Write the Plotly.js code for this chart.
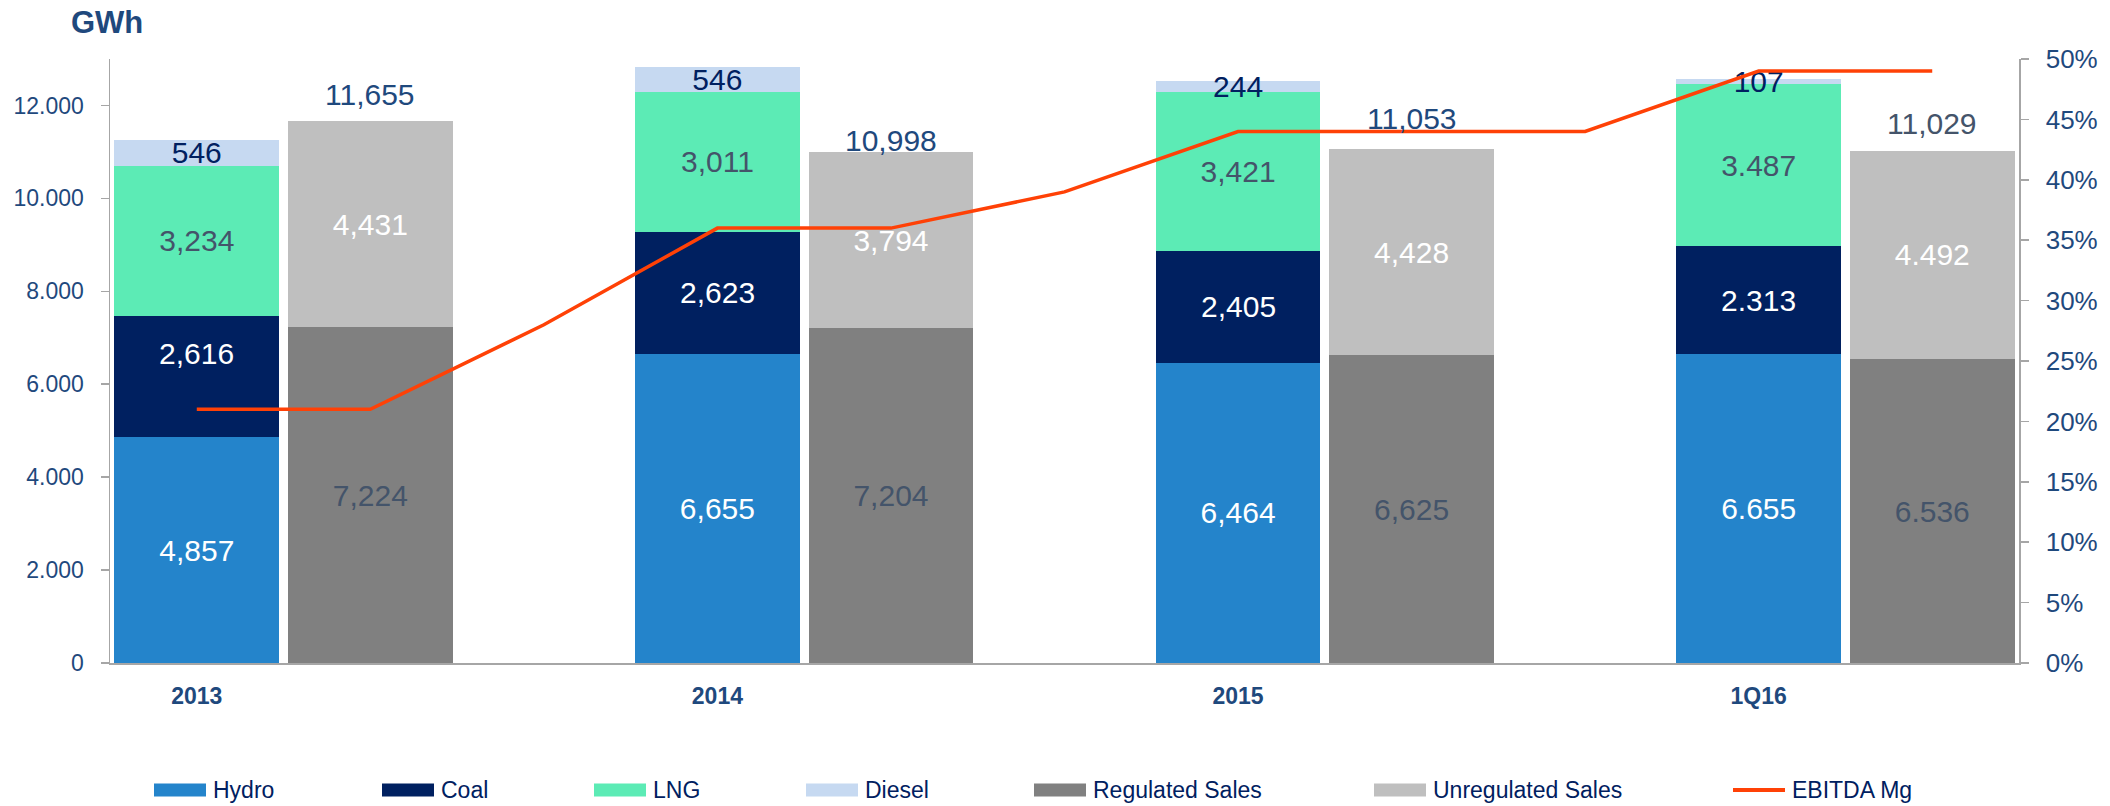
<!DOCTYPE html>
<html><head><meta charset="utf-8">
<script src="https://cdn.plot.ly/plotly-3.0.1.min.js"></script>
<style>html,body{margin:0;padding:0;background:#fff}#chart{width:2110px;height:806px}</style>
</head><body><div id="chart"></div>
<script>
// ---- data ----
const categories = ['2013', '2014', '2015', '1Q16'];
const hydro = [4857, 6655, 6464, 6655];
const coal = [2616, 2623, 2405, 2313];
const lng = [3234, 3011, 3421, 3487];
const diesel = [546, 546, 244, 107];
const regulated = [7224, 7204, 6625, 6536];
const unregulated = [4431, 3794, 4428, 4492];
const salesTotal = [11655, 10998, 11053, 11029];
const hydroLabels = ['4,857', '6,655', '6,464', '6.655'];
const coalLabels = ['2,616', '2,623', '2,405', '2.313'];
const lngLabels = ['3,234', '3,011', '3,421', '3.487'];
const dieselLabels = ['546', '546', '244', '107'];
const regulatedLabels = ['7,224', '7,204', '6,625', '6.536'];
const unregulatedLabels = ['4,431', '3,794', '4,428', '4.492'];
const totalLabels = ['11,655', '10,998', '11,053', '11,029'];
// EBITDA margin (%) at each of the 11 slots (generation bar, sales bar, gap, ...)
const ebitdaMargin = [21, 21, 28, 36, 36, 39, 44, 44, 44, 49, 49];

// ---- layout helpers ----
const W = 2110, H = 806, L = 110, R = 91, T = 59, B = 143;
const PW = W - L - R, PH = H - T - B;
const px = v => (v - L) / PW;
const py = v => (H - B - v) / PH;
const FONT = 'Arial, "Liberation Sans", sans-serif';

const genX = categories.map((c, i) => 3 * i);
const salesX = categories.map((c, i) => 3 * i + 1);
const lineX = ebitdaMargin.map((v, i) => i);

const colors = {
  Hydro: '#2484CB', Coal: '#002060', LNG: '#5CEBB5', Diesel: '#C6D9F1',
  'Regulated Sales': '#808080', 'Unregulated Sales': '#BFBFBF', 'EBITDA Mg': '#FF4106'
};
const totalColors = ['#1F497D', '#1F497D', '#1F497D', '#44546A'];
const totalShift = [27, 12, 31, 27];   // label nudges (px) above the sales bars
const coalShift = [23, 0, 0, 0];       // label nudges (px) within the coal segments

function barTrace(name, x, y, text, textColor) {
  return {
    type: 'bar', name: name, x: x, y: y, text: text,
    textposition: text ? 'inside' : 'none', insidetextanchor: 'middle', textangle: 0,
    constraintext: 'none', cliponaxis: false,
    textfont: {family: FONT, size: 30, color: textColor},
    marker: {color: colors[name]},
    hoverinfo: 'skip', showlegend: false
  };
}

const traces = [
  barTrace('Hydro', genX, hydro, hydroLabels, '#FFFFFF'),
  barTrace('Coal', genX, coal, null, '#FFFFFF'),
  barTrace('LNG', genX, lng, lngLabels, '#44546A'),
  barTrace('Diesel', genX, diesel, dieselLabels, '#002060'),
  barTrace('Regulated Sales', salesX, regulated, regulatedLabels, '#44546A'),
  barTrace('Unregulated Sales', salesX, unregulated, unregulatedLabels, '#FFFFFF'),
  {
    type: 'scatter', mode: 'lines', name: 'EBITDA Mg', x: lineX, y: ebitdaMargin,
    yaxis: 'y2', line: {color: colors['EBITDA Mg'], width: 3.5},
    hoverinfo: 'skip', showlegend: false
  }
];

const shapes = [], annotations = [];

// coal segment labels (centred on segment, with nudge)
genX.forEach((x, i) => {
  annotations.push({xref: 'x', yref: 'y', x: x, y: hydro[i] + coal[i] / 2, text: coalLabels[i],
    showarrow: false, xanchor: 'center', yanchor: 'middle', yshift: coalShift[i],
    font: {family: FONT, size: 30, color: '#FFFFFF'}});
});

// total labels above the sales bars
salesX.forEach((x, i) => {
  annotations.push({xref: 'x', yref: 'y', x: x, y: salesTotal[i], text: totalLabels[i],
    showarrow: false, xanchor: 'center', yanchor: 'middle', yshift: totalShift[i],
    font: {family: FONT, size: 30, color: totalColors[i]}});
});

// manual legend
const legendItems = [
  {name: 'Hydro', left: 154, kind: 'box'},
  {name: 'Coal', left: 382, kind: 'box'},
  {name: 'LNG', left: 594, kind: 'box'},
  {name: 'Diesel', left: 806, kind: 'box'},
  {name: 'Regulated Sales', left: 1034, kind: 'box'},
  {name: 'Unregulated Sales', left: 1374, kind: 'box'},
  {name: 'EBITDA Mg', left: 1733, kind: 'line'}
];
const LEG_Y = 790, SW = 52, SH = 13;
legendItems.forEach(it => {
  if (it.kind === 'box') {
    shapes.push({type: 'rect', xref: 'paper', yref: 'paper',
      x0: px(it.left), x1: px(it.left + SW), y0: py(LEG_Y + SH / 2), y1: py(LEG_Y - SH / 2),
      fillcolor: colors[it.name], line: {width: 0}});
  } else {
    shapes.push({type: 'line', xref: 'paper', yref: 'paper',
      x0: px(it.left), x1: px(it.left + SW), y0: py(LEG_Y), y1: py(LEG_Y),
      line: {color: colors[it.name], width: 4}});
  }
  annotations.push({xref: 'paper', yref: 'paper', x: px(it.left + SW + 5), y: py(LEG_Y),
    xanchor: 'left', yanchor: 'middle', showarrow: false, text: it.name,
    font: {family: FONT, size: 23, color: '#002060'}});
});
annotations.push({xref: 'paper', yref: 'paper', x: px(69), y: py(23), xanchor: 'left', yanchor: 'middle',
  showarrow: false, text: '<b>GWh</b>', font: {family: FONT, size: 31, color: '#1F497D'}});

const layout = {
  width: W, height: H,
  margin: {l: L, r: R, t: T, b: B, pad: 0},
  paper_bgcolor: '#FFFFFF', plot_bgcolor: '#FFFFFF',
  separators: ',.',
  barmode: 'stack', bargap: 0.05,
  font: {family: FONT, color: '#1F497D'},
  xaxis: {
    range: [-0.5, 10.5], tickvals: genX, ticktext: categories,
    showgrid: false, zeroline: false, showline: true, linecolor: '#A6A6A6', linewidth: 2,
    ticks: '', ticklabelstandoff: 11,
    tickfont: {family: FONT, size: 23, color: '#1F497D', weight: 'bold'}
  },
  yaxis: {
    range: [0, 13000], dtick: 2000, tick0: 0, tickformat: ',d',
    showgrid: false, zeroline: false, showline: true, linecolor: '#A6A6A6', linewidth: 1.5,
    ticks: 'outside', ticklen: 8, tickcolor: '#A6A6A6', tickwidth: 1.5, ticklabelstandoff: 12,
    tickfont: {family: FONT, size: 23, color: '#1F497D'}
  },
  yaxis2: {
    overlaying: 'y', side: 'right', range: [0, 50], dtick: 5, tick0: 0, ticksuffix: '%',
    showgrid: false, zeroline: false, showline: true, linecolor: '#A6A6A6', linewidth: 1.5,
    ticks: 'outside', ticklen: 8, tickcolor: '#A6A6A6', tickwidth: 1.5, ticklabelstandoff: 12,
    tickfont: {family: FONT, size: 26, color: '#1F497D'}
  },
  shapes: shapes, annotations: annotations,
  showlegend: false
};

Plotly.newPlot('chart', traces, layout, {displayModeBar: false, staticPlot: true});
</script>
</body></html>
